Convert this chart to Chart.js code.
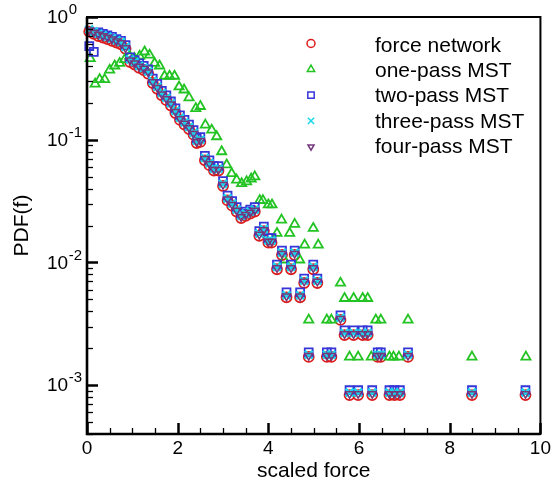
<!DOCTYPE html>
<html><head><meta charset="utf-8">
<script src="https://cdn.jsdelivr.net/npm/chart.js@4.4.1/dist/chart.umd.min.js"></script>
<style>html,body{margin:0;padding:0;background:#fff}#wrap{width:554px;height:487px;position:relative}</style>
</head><body><div id="wrap"><canvas id="c" width="554" height="487"></canvas></div>
<script>
// ---- data ----
const seriesNames = ['force network','one-pass MST','two-pass MST','three-pass MST','four-pass MST'];
const xTickLabels = [0,2,4,6,8,10];
const yDecades = [0,-1,-2,-3];

const fNet = [0.05,0.15,0.25,0.35,0.45,0.55,0.65,0.75,0.85,0.95,
  1.05,1.15,1.25,1.35,1.45,1.55,1.65,1.75,1.85,1.95,
  2.05,2.15,2.25,2.35,2.42,2.50,2.60,2.70,2.80,2.90,
  3.00,3.10,3.20,3.30,3.40,3.50,3.60,3.70,3.80,3.90,
  4.00,4.07,4.19,4.30,4.40,4.50,4.58,4.70,4.79,4.89,
  4.99,5.08,5.29,5.39,5.59,5.68,5.79,5.88,5.98,6.08,
  6.19,6.29,6.41,6.48,6.67,6.78,6.90,7.08,8.49,9.67];
const pNet = [0.76,0.73,0.70,0.68,0.66,0.64,0.62,0.60,0.55,0.43,
  0.41,0.385,0.37,0.345,0.29,0.26,0.23,0.21,0.19,0.165,
  0.145,0.133,0.122,0.11,0.094,0.096,0.068,0.062,0.056,0.056,
  0.042,0.032,0.029,0.026,0.023,0.024,0.025,0.026,0.0165,0.018,
  0.0145,0.0145,0.0088,0.0115,0.0052,0.0088,0.0115,0.0052,0.0068,0.0017,
  0.0088,0.0068,0.0017,0.0017,0.0034,0.00256,0.00083,0.00256,0.00083,0.00256,
  0.00256,0.00083,0.0017,0.0017,0.00083,0.00083,0.00083,0.0017,0.00083,0.00083];
const pTwo = [0.58,0.52,0.75,0.73,0.71,0.69,0.66,0.64,0.59,0.47,
  0.445,0.42,0.40,0.375,0.315,0.285,0.25,0.23,0.205,0.18,
  0.158,0.145,0.133,0.12,0.102,0.105,0.074,0.068,0.061,0.061,
  0.046,0.035,0.0316,0.0283,0.025,0.026,0.027,0.0283,0.018,0.0196,
  0.0158,0.0158,0.0096,0.0125,0.0057,0.0096,0.0125,0.0057,0.0074,0.00185,
  0.0096,0.0074,0.00185,0.00185,0.0037,0.0028,0.00091,0.0028,0.00091,0.0028,
  0.0028,0.00091,0.00185,0.00185,0.00091,0.00091,0.00091,0.00185,0.00091,0.00091];
const pThree = [0.79,0.76,0.73,0.71,0.69,0.67,0.645,0.625,0.57,0.45,
  0.43,0.40,0.385,0.36,0.30,0.27,0.24,0.22,0.198,0.172,
  0.151,0.138,0.127,0.114,0.098,0.10,0.071,0.0645,0.058,0.058,
  0.0437,0.0333,0.0302,0.027,0.024,0.025,0.026,0.027,0.0172,0.0187,
  0.0151,0.0151,0.0092,0.012,0.0054,0.0092,0.012,0.0054,0.0071,0.00177,
  0.0092,0.0071,0.00177,0.00177,0.00354,0.00266,0.00087,0.00266,0.00087,0.00266,
  0.00266,0.00087,0.00177,0.00177,0.00087,0.00087,0.00087,0.00177,0.00087,0.00087];
const pFour = [0.78,0.75,0.72,0.70,0.68,0.66,0.635,0.615,0.56,0.445,
  0.42,0.395,0.38,0.355,0.295,0.265,0.235,0.215,0.195,0.169,
  0.148,0.136,0.125,0.112,0.096,0.098,0.070,0.0635,0.057,0.057,
  0.043,0.0327,0.0296,0.0265,0.0235,0.0245,0.0255,0.0265,0.0169,0.0184,
  0.0148,0.0148,0.009,0.0118,0.0053,0.009,0.0118,0.0053,0.007,0.00174,
  0.009,0.007,0.00174,0.00174,0.00348,0.00261,0.00085,0.00261,0.00085,0.00261,
  0.00261,0.00085,0.00174,0.00174,0.00085,0.00085,0.00085,0.00174,0.00085,0.00085];
const fOne = [0.07,0.18,0.28,0.39,0.50,0.61,0.72,0.83,0.94,1.05,
  1.16,1.27,1.38,1.49,1.60,1.71,1.82,1.93,2.03,2.14,
  2.25,2.40,2.50,2.61,2.75,2.86,2.97,3.08,3.19,3.30,
  3.41,3.52,3.62,3.70,3.81,3.88,4.00,4.08,4.19,4.29,
  4.35,4.47,4.58,4.69,4.80,4.89,4.99,5.10,5.29,5.39,
  5.59,5.68,5.79,5.88,5.98,6.08,6.19,6.27,6.37,6.48,
  6.67,6.76,6.88,7.08,8.49,9.68];
const pOne = [0.46,0.285,0.31,0.31,0.37,0.40,0.42,0.45,0.48,0.46,
  0.48,0.52,0.49,0.42,0.40,0.33,0.33,0.33,0.27,0.255,
  0.22,0.18,0.187,0.132,0.12,0.106,0.080,0.0625,0.053,0.047,
  0.044,0.0455,0.048,0.050,0.032,0.032,0.0295,0.0295,0.0173,0.0222,
  0.0105,0.0173,0.0205,0.0105,0.0139,0.0034,0.019,0.0139,0.0034,0.0034,
  0.0068,0.0051,0.0017,0.0051,0.0017,0.0051,0.0051,0.0017,0.0034,0.0034,
  0.0017,0.0017,0.0017,0.0034,0.0017,0.0017];

// ---- styling ----
const colors = ['#dc1c1c','#22c322','#3535d8','#19d6ea','#74387c'];
const styles = [
  {pointStyle:'circle', radius:5, rotation:0, bw:1.8},
  {pointStyle:'triangle', radius:5.3, rotation:0, bw:1.8},
  {pointStyle:'rect', radius:5.6, rotation:0, bw:1.8},
  {pointStyle:'crossRot', radius:5.5, rotation:0, bw:2.6},
  {pointStyle:'triangle', radius:4.4, rotation:180, bw:1.5}
];
const FONT = '"Liberation Sans", Arial, sans-serif';

const toPts = (xs, ys) => xs.map((x,i)=>({x:x, y:ys[i]}));
const seriesData = [toPts(fNet,pNet), toPts(fOne,pOne), toPts(fNet,pTwo), toPts(fNet,pThree), toPts(fNet,pFour)];

const datasets = seriesNames.map((name,i)=>({
  label: name,
  data: seriesData[i],
  showLine: false,
  pointStyle: styles[i].pointStyle,
  pointRadius: styles[i].radius,
  pointHoverRadius: styles[i].radius,
  pointRotation: styles[i].rotation,
  pointBorderWidth: styles[i].bw,
  pointBorderColor: colors[i],
  pointBackgroundColor: 'rgba(0,0,0,0)',
  borderColor: colors[i],
  backgroundColor: 'rgba(0,0,0,0)',
  clip: false,
  order: 5 - i
}));

const framePlugin = {
  id: 'frame',
  afterDatasetsDraw(chart){
    const {ctx, chartArea:a, scales} = chart;
    const x = scales.x, y = scales.y;
    ctx.save();
    ctx.strokeStyle = '#000';
    ctx.lineCap = 'butt';
    // x ticks (inward)
    for (let v = 0; v <= 10.001; v += 0.5){
      const px = Math.round(x.getPixelForValue(v)) + 0.5;
      const major = Math.abs(v/2 - Math.round(v/2)) < 1e-6;
      ctx.lineWidth = major ? 2.5 : 1.3;
      ctx.beginPath(); ctx.moveTo(px, a.bottom); ctx.lineTo(px, a.bottom - (major ? 11 : 6)); ctx.stroke();
    }
    // y ticks (inward)
    for (let d = -4; d <= 0; d++){
      for (let k = 1; k <= 9; k++){
        const v = k * Math.pow(10, d);
        if (v < 4e-4 - 1e-12 || v > 1 + 1e-9) continue;
        const py = Math.round(y.getPixelForValue(v)) + 0.5;
        const major = k === 1;
        ctx.lineWidth = major ? 2.5 : 1.3;
        ctx.beginPath(); ctx.moveTo(a.left, py); ctx.lineTo(a.left + (major ? 11 : 6), py); ctx.stroke();
      }
    }
    // frame
    ctx.lineWidth = 2;
    ctx.strokeRect(a.left, a.top, a.right - a.left, a.bottom - a.top);
    ctx.lineWidth = 2.6;
    ctx.beginPath(); ctx.moveTo(a.left, a.top); ctx.lineTo(a.left, a.bottom); ctx.lineTo(a.right, a.bottom); ctx.stroke();

    // y tick labels 10^n
    ctx.fillStyle = '#000';
    ctx.textBaseline = 'middle';
    ctx.textAlign = 'left';
    yDecades.forEach(e => {
      const py = y.getPixelForValue(Math.pow(10, e));
      ctx.font = '19px ' + FONT;
      const base = '10';
      const wb = ctx.measureText(base).width;
      const lx = 47;
      ctx.fillText(base, lx, py + 1);
      ctx.font = '15px ' + FONT;
      ctx.fillText(e === 0 ? '0' : '-' + (-e), lx + wb + 0.5, py - 7);
    });

    // legend
    const lx = 311, tx = 375;
    seriesNames.forEach((name, i) => {
      const my = 43.5 + i * 25.8;
      ctx.save();
      ctx.strokeStyle = colors[i];
      ctx.fillStyle = 'rgba(0,0,0,0)';
      ctx.lineWidth = 1.5;
      Chart.helpers.drawPoint(ctx, {pointStyle: styles[i].pointStyle, radius: styles[i].radius * 0.8, rotation: styles[i].rotation, borderWidth: 1}, lx, my);
      ctx.restore();
      ctx.fillStyle = '#000';
      ctx.font = '21px ' + FONT;
      ctx.textBaseline = 'alphabetic';
      ctx.fillText(name, tx, 51.5 + i * 25.4);
    });
    ctx.restore();
  }
};

new Chart(document.getElementById('c'), {
  type: 'scatter',
  data: { datasets },
  options: {
    responsive: false,
    animation: false,
    devicePixelRatio: 1,
    layout: { padding: { top: 17, right: 9, left: 0, bottom: 0 } },
    plugins: { legend: { display: false }, tooltip: { enabled: false } },
    scales: {
      x: {
        type: 'linear', min: 0, max: 10,
        afterBuildTicks(scale){ scale.ticks = xTickLabels.map(v => ({value: v})); },
        afterFit(scale){ scale.height = 53; },
        grid: { display: false, drawTicks: false },
        border: { display: false },
        ticks: { color: '#000', font: { family: FONT, size: 19 }, padding: 3, maxRotation: 0, autoSkip: false,
                 callback: v => String(v) },
        title: { display: true, text: 'scaled force', color: '#000', font: { family: FONT, size: 21 }, padding: { top: 0, bottom: 3 } }
      },
      y: {
        type: 'logarithmic', min: 4e-4, max: 1,
        afterFit(scale){ scale.width = 87; },
        grid: { display: false, drawTicks: false },
        border: { display: false },
        ticks: { callback: () => '' },
        title: { display: true, text: 'PDF(f)', color: '#000', font: { family: FONT, size: 21 }, padding: { top: 10, bottom: 0 } }
      }
    }
  },
  plugins: [framePlugin]
});
</script>
</body></html>
